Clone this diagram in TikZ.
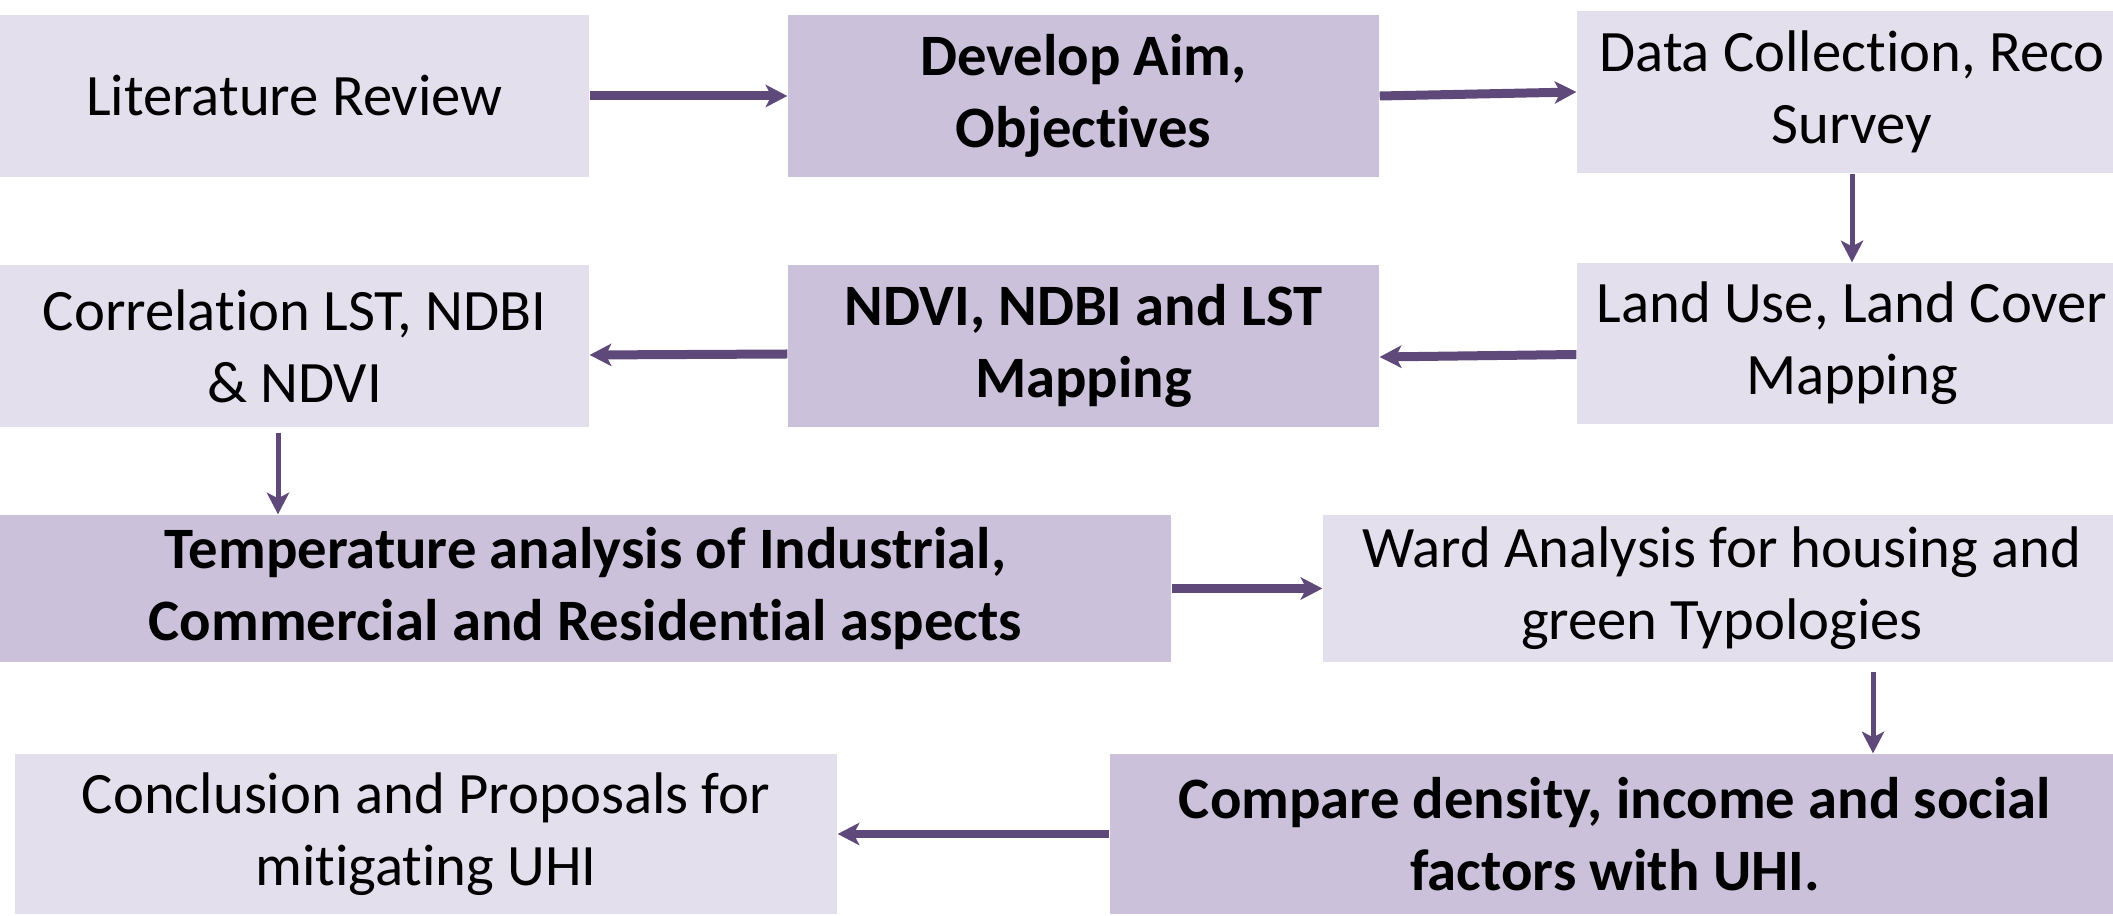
\documentclass[tikz,border=0pt]{standalone}
\usepackage{fontspec}
\setmainfont{Carlito}[Ligatures=NoCommon]
\usepackage{xcolor}
\usepackage{tikz}
\usetikzlibrary{arrows.meta}
\definecolor{lavlight}{HTML}{E4DFEC}
\definecolor{lavdark}{HTML}{CCC1DA}
\definecolor{plum}{HTML}{5F497A}

\begin{document}
\begin{tikzpicture}[
    font=\fontsize{16.7}{20.4}\selectfont,
    box/.style={fill=lavlight, inner sep=0pt, align=center},
    boldbox/.style={box, fill=lavdark, font=\fontsize{16.7}{20.4}\selectfont\bfseries},
    flow/.style={draw=plum, line width=0.09cm,
      -{Stealth[length=0.22cm, width=0.23cm, inset=0.06cm, line width=0pt]}},
    down/.style={draw=plum, line width=0.05cm,
      -{Stealth[length=0.22cm, width=0.23cm, inset=0.06cm, line width=0pt]}}]
  \useasboundingbox (0,0) rectangle (21.13,9.15);
  \clip (0,0) rectangle (21.13,9.15);
  % first row
  \node[box, minimum width=5.89cm, minimum height=1.62cm] (lit) at (2.945,8.19) {Literature Review};
  \node[boldbox, minimum width=5.91cm, minimum height=1.62cm] (aim) at (10.835,8.19) {Develop Aim,\\Objectives};
  \node[box, minimum width=5.50cm, minimum height=1.62cm] (data) at (18.52,8.23) {Data Collection, Reco\\Survey};
  % second row
  \node[box, minimum width=5.50cm, minimum height=1.61cm] (lulc) at (18.52,5.715) {Land Use, Land Cover\\Mapping};
  \node[boldbox, minimum width=5.91cm, minimum height=1.62cm] (indices) at (10.835,5.69) {NDVI, NDBI and LST\\Mapping};
  \node[box, minimum width=5.89cm, minimum height=1.62cm] (corr) at (2.945,5.69) {Correlation LST, NDBI\\\& NDVI};
  % third row
  \node[boldbox, minimum width=11.71cm, minimum height=1.47cm] (temp) at (5.855,3.265) {Temperature analysis of Industrial,\\Commercial and Residential aspects};
  \node[box, minimum width=7.98cm, minimum height=1.47cm] (ward) at (17.22,3.265) {Ward Analysis for housing and\\green Typologies};
  % last row
  \node[boldbox, minimum width=10.10cm, minimum height=1.60cm] (comp) at (16.15,0.81) {Compare density, income and social\\factors with UHI.};
  \node[box, minimum width=8.22cm, minimum height=1.60cm] (concl) at (4.26,0.81) {Conclusion and Proposals for\\mitigating UHI};
  % connectors
  \draw[flow] (lit.east) -- (aim.west);
  \draw[flow] (aim.east) -- (data.west);
  \draw[down] (data.south) -- (lulc.north);
  \draw[flow] ([yshift=-0.11cm]lulc.west) -- ([yshift=-0.11cm]indices.east);
  \draw[flow] ([yshift=-0.08cm]indices.west) -- ([yshift=-0.09cm]corr.east);
  \draw[down, shorten <=0.05cm] ([xshift=-0.165cm]corr.south) -- ([xshift=-0.165cm]corr.south |- temp.north);
  \draw[flow] (temp.east) -- (ward.west);
  \draw[down, shorten <=0.09cm] ([xshift=1.51cm]ward.south) -- ([xshift=1.51cm]ward.south |- comp.north);
  \draw[flow] (comp.west) -- (concl.east);
\end{tikzpicture}
\end{document}
